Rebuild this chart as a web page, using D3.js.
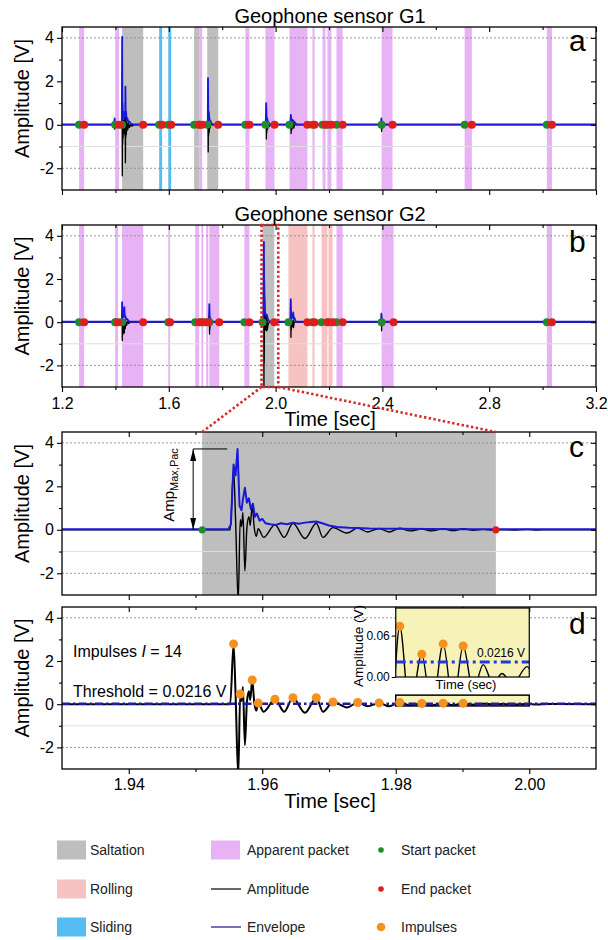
<!DOCTYPE html>
<html>
<head>
<meta charset="utf-8">
<script src="https://cdn.jsdelivr.net/npm/d3@7/dist/d3.min.js"></script>
<style>
  html, body { margin: 0; padding: 0; background: #fff; }
  svg { display: block; }
</style>
</head>
<body>
<svg id="fig" width="608" height="940"></svg>
<script>
// ---------- axis ticks ----------
const overviewTicks = [1.2, 1.6, 2.0, 2.4, 2.8, 3.2];
const overviewMinorTicks = [1.4, 1.8, 2.2, 2.6, 3.0];
const detailTicks = [1.94, 1.96, 1.98, 2.00];
const detailMinorTicks = [1.95, 1.97, 1.99];
const ampTicks = [-2, 0, 2, 4];
const ampMinorTicks = [-1, 1, 3];
const insetTicks = [0, 0.06];

// ---------- packets of sensor G1, [start, end] in s ----------
const g1Apparent = [[1.264,1.283],[1.399,1.414],[1.714,1.725],[1.887,1.902],[1.962,1.996],[2.052,2.119],[2.138,2.146],[2.176,2.187],[2.194,2.209],[2.228,2.251],[2.397,2.438],[2.708,2.735],[3.016,3.035]];
const g1Saltation = [[1.425,1.504],[1.695,1.714],[1.744,1.785]];
const g1Rolling = [];
const g1Sliding = [[1.564,1.575],[1.598,1.609]];

// ---------- packets of sensor G2 ----------
const g2Apparent = [[1.264,1.283],[1.399,1.410],[1.425,1.504],[1.598,1.605],[1.699,1.714],[1.722,1.729],[1.740,1.748],[1.752,1.789],[1.883,1.902],[2.228,2.251],[2.397,2.442],[3.016,3.035]];
const g2Saltation = [[1.951,1.995]];
const g2Rolling = [[2.048,2.119],[2.138,2.146],[2.172,2.194],[2.198,2.213]];
const g2Sliding = [];

// ---------- G1 signals, [t (s), V] ----------
const g1Amplitude = [[1.200,0],[1.396,0],[1.397,-0.2],[1.398,0.1],[1.399,0],
 [1.424,0],[1.4252,0.5],[1.4258,-2.35],[1.4265,0.3],[1.4272,-0.9],[1.428,0.25],[1.429,-0.6],[1.430,0.2],[1.431,-0.4],[1.432,0.15],[1.433,-0.3],[1.435,0.3],[1.436,-0.5],[1.4368,0.4],[1.4375,-1.75],[1.4383,0.3],[1.439,-0.6],[1.440,0.2],[1.441,-0.45],[1.442,0.1],[1.443,-0.3],[1.445,0.05],[1.447,-0.2],[1.450,0.05],[1.453,-0.12],[1.458,0.03],[1.462,-0.06],[1.470,0],
 [1.746,0],[1.7468,0.5],[1.7476,-1.25],[1.7484,0.3],[1.749,-0.5],[1.750,0.1],[1.751,-0.35],[1.753,0.1],[1.755,-0.15],[1.758,0.03],[1.762,0],
 [1.964,0],[1.9648,0.35],[1.9655,-0.65],[1.9662,0.15],[1.967,-0.35],[1.968,0.05],[1.970,-0.2],[1.973,0.03],[1.976,-0.08],[1.980,0],
 [2.056,0],[2.0572,0.2],[2.058,-0.4],[2.059,0.1],[2.060,-0.25],[2.062,0.05],[2.064,-0.15],[2.066,0.1],[2.068,-0.15],[2.071,0],
 [2.395,0],[2.396,0.15],[2.397,-0.3],[2.398,0.1],[2.400,-0.15],[2.403,0],
 [3.200,0]];
const g1Envelope = [[1.200,0.02],[1.395,0.02],[1.397,0.3],[1.399,0.02],
 [1.424,0.02],[1.4252,4.05],[1.4262,0.8],[1.4272,1.0],[1.428,0.4],[1.430,0.6],[1.432,0.3],[1.434,0.45],[1.4368,0.5],[1.4375,1.75],[1.4385,0.5],[1.440,0.6],[1.442,0.25],[1.445,0.3],[1.448,0.12],[1.452,0.15],[1.458,0.05],[1.465,0.02],
 [1.746,0.02],[1.7468,2.15],[1.748,0.5],[1.750,0.6],[1.752,0.25],[1.755,0.2],[1.760,0.05],[1.765,0.02],
 [1.963,0.02],[1.9648,1.0],[1.966,0.4],[1.968,0.3],[1.971,0.15],[1.975,0.08],[1.980,0.02],
 [2.055,0.02],[2.0572,0.45],[2.059,0.2],[2.061,0.25],[2.064,0.1],[2.066,0.2],[2.069,0.08],[2.072,0.12],[2.078,0.02],
 [2.395,0.02],[2.396,0.3],[2.398,0.1],[2.402,0.02],
 [3.200,0.02]];

// ---------- G2 signals ----------
const g2Amplitude = [[1.200,0],[1.424,0],[1.4252,0.3],[1.4258,-0.85],[1.4265,0.2],[1.4272,-0.6],[1.428,0.15],[1.429,-0.5],[1.430,0.1],[1.431,-0.35],[1.4325,0.1],[1.4335,-0.5],[1.435,0.1],[1.437,-0.3],[1.439,0.05],[1.442,-0.15],[1.446,0.03],[1.450,-0.06],[1.456,0],
 [1.751,0],[1.7518,0.3],[1.7526,-0.55],[1.7534,0.1],[1.754,-0.3],[1.756,0.05],[1.758,-0.12],[1.762,0],
 [1.955,0],[1.9557,2.79],[1.9564,-3.3],[1.9567,0.47],[1.9574,-1.9],[1.9585,1.12],[1.9602,-0.35],[1.9619,0.23],[1.9633,-0.35],[1.9646,0.3],[1.9664,-0.4],[1.9681,0.3],[1.9691,-0.35],[1.972,-0.1],[1.976,0],
 [2.056,0],[2.0568,0.2],[2.0575,-0.7],[2.0583,0.15],[2.059,-0.35],[2.061,0.05],[2.063,-0.2],[2.066,0.1],[2.067,-0.25],[2.070,0],
 [2.395,0],[2.396,0.15],[2.397,-0.4],[2.398,0.1],[2.400,-0.15],[2.403,0],
 [3.200,0]];
const g2Envelope = [[1.200,0.02],[1.396,0.02],[1.398,0.15],[1.400,0.02],
 [1.424,0.02],[1.4252,0.93],[1.4262,0.4],[1.4272,0.5],[1.428,0.3],[1.4295,0.35],[1.431,0.25],[1.4325,0.6],[1.4335,0.7],[1.435,0.25],[1.437,0.3],[1.440,0.12],[1.444,0.15],[1.450,0.05],[1.458,0.02],
 [1.750,0.02],[1.7518,0.84],[1.753,0.3],[1.755,0.2],[1.758,0.1],[1.764,0.02],
 [1.954,0.02],[1.9557,3.0],[1.9563,3.72],[1.957,1.5],[1.9574,1.93],[1.9585,1.2],[1.960,0.5],[1.963,0.3],[1.967,0.35],[1.971,0.15],[1.976,0.05],[1.982,0.02],
 [2.055,0.02],[2.0568,1.07],[2.058,0.4],[2.060,0.3],[2.062,0.2],[2.064,0.25],[2.066,0.45],[2.068,0.15],[2.071,0.2],[2.074,0.05],[2.080,0.02],
 [2.395,0.02],[2.396,0.4],[2.398,0.15],[2.402,0.02],
 [3.200,0.02]];

// ---------- saltation packet of G2 in detail ----------
const packetStart = 1.951, packetEnd = 1.995;
const detailAmplitude = [[1.9300,0],[1.9552,0],[1.9557,2.79],[1.9560,0.5],[1.9564,-3.3],[1.9567,0.47],[1.9569,0.15],[1.9571,0.8],[1.9574,-1.9],[1.9577,0.1],[1.9580,0.6],[1.9582,0.2],[1.9585,1.12],[1.9588,0.1],[1.9591,-0.3],[1.9594,0.05],[1.9602,-0.35],[1.9619,0.23],[1.9633,-0.35],[1.9646,0.30],[1.9664,-0.40],[1.9681,0.30],[1.9691,-0.35],[1.9706,0.10],[1.9727,-0.15],[1.9743,0.08],[1.9758,-0.10],[1.9775,0.06],[1.9790,-0.10],[1.9806,0.0735],[1.9821,-0.05],[1.9839,0.033],[1.9854,-0.05],[1.9871,0.048],[1.9886,-0.04],[1.9901,0.045],[1.9916,-0.02],[1.9931,0.018],[1.9946,-0.01],[1.9959,0.005],[1.9975,-0.01],[1.9997,0.015],[2.0012,-0.01],[2.0030,0.004],[2.0100,0]];
const detailEnvelope = [[1.9300,0.02],[1.9549,0.02],[1.9553,0.25],[1.9557,3.0],[1.9560,2.5],[1.9563,3.72],[1.9566,1.1],[1.9569,0.9],[1.9571,1.4],[1.9574,1.93],[1.9577,1.25],[1.9580,1.45],[1.9583,0.95],[1.9586,1.2],[1.9589,0.6],[1.9592,0.75],[1.9596,0.42],[1.9600,0.5],[1.9605,0.3],[1.9612,0.26],[1.9620,0.22],[1.9628,0.3],[1.9637,0.26],[1.9646,0.32],[1.9655,0.28],[1.9664,0.33],[1.9673,0.36],[1.9681,0.38],[1.9690,0.3],[1.9700,0.2],[1.9712,0.13],[1.9730,0.09],[1.9760,0.06],[1.9800,0.05],[1.9850,0.04],[1.9900,0.03],[1.9950,0.02],[2.0100,0.02]];
const impulseTimes = [1.9557,1.9567,1.9585,1.9594,1.9619,1.9646,1.9681,1.9706,1.9743,1.9775,1.9806,1.9839,1.9871,1.9901];
const impulseValues = [2.79,0.47,1.12,0.05,0.23,0.30,0.30,0.10,0.08,0.06,0.0735,0.033,0.048,0.045];
const threshold = 0.0216;
const insetWindow = [1.98, 2.00];

// ---------- drawing ----------
const FONT = '"Liberation Sans", Arial, Helvetica, sans-serif';
const C = {
  saltation: "#bebebe", rolling: "#f7c2c2", sliding: "#55bdf1", apparent: "#e8b3f4",
  amp: "#000000", env: "#1818d8", start: "#1e8c2a", end: "#e31b1b", impulse: "#f5911f",
  threshold: "#1d1da2", thresholdInset: "#2038e0", zoom: "#d42a2a", inset: "#f7f3b8"
};

const svg = d3.select("#fig").attr("font-family", FONT);
const defs = svg.append("defs");

const X0 = 62, X1 = 596;
const xOverview = d3.scaleLinear().domain([1.2, 3.2]).range([X0, X1]);
const xDetail = d3.scaleLinear().domain([1.93, 2.01]).range([X0, X1]);
const yFor = (top, bottom) => d3.scaleLinear().domain([-3, 4.5]).range([bottom, top]);
const yA = yFor(27, 190), yB = yFor(225, 387), yC = yFor(432, 595), yD = yFor(607, 769);

function makePanel(id, x, y) {
  const [yb, yt] = y.range();
  defs.append("clipPath").attr("id", "clip-" + id).append("rect")
    .attr("x", X0).attr("y", yt).attr("width", X1 - X0).attr("height", yb - yt);
  const g = svg.append("g").attr("class", "panel-" + id);
  const plot = g.append("g").attr("clip-path", `url(#clip-${id})`);
  return { g, plot, x, y };
}

function shade(p, intervals, color) {
  const [yb, yt] = p.y.range();
  p.plot.append("g").selectAll("rect").data(intervals).join("rect")
    .attr("x", d => p.x(d[0])).attr("y", yt)
    .attr("width", d => Math.max(1.5, p.x(d[1]) - p.x(d[0])))
    .attr("height", yb - yt).attr("fill", color);
}

function grid(p) {
  const g = p.plot.append("g");
  g.selectAll("line.dotted").data([4, -2]).join("line").attr("class", "dotted")
    .attr("x1", X0).attr("x2", X1).attr("y1", d => p.y(d)).attr("y2", d => p.y(d))
    .attr("stroke", "#8c8c8c").attr("stroke-width", 0.9).attr("stroke-dasharray", "2,2");
  g.selectAll("line.light").data([-1]).join("line").attr("class", "light")
    .attr("x1", X0).attr("x2", X1).attr("y1", d => p.y(d)).attr("y2", d => p.y(d))
    .attr("stroke", "#dedede").attr("stroke-width", 1);
}

function trace(p, pts, color, width, curve) {
  return p.plot.append("path").datum(pts)
    .attr("d", d3.line().x(d => p.x(d[0])).y(d => p.y(d[1])).curve(curve || d3.curveLinear))
    .attr("fill", "none").attr("stroke", color).attr("stroke-width", width)
    .attr("stroke-linejoin", "round");
}

function dots(p, times, values, color, r) {
  p.plot.append("g").selectAll("circle").data(times.map((t, i) => [t, values[i]])).join("circle")
    .attr("cx", d => p.x(d[0])).attr("cy", d => p.y(d[1])).attr("r", r).attr("fill", color);
}

function packetMarkers(p, packets, r) {
  dots(p, packets.map(d => d[0]), packets.map(() => 0), C.start, r);
  dots(p, packets.map(d => d[1]), packets.map(() => 0), C.end, r);
}

function styleAxis(s, size) {
  s.select(".domain").remove();
  s.attr("font-family", FONT).attr("font-size", size || 16);
  s.selectAll(".tick line").attr("stroke", "#000").attr("stroke-width", 1.1);
  s.selectAll(".tick text").attr("fill", "#000");
}

function axes(p, major, minor, fmt, pad) {
  const [yb, yt] = p.y.range();
  const add = (tr, axis) => p.g.append("g").attr("transform", tr).call(axis).call(styleAxis);
  add(`translate(${X0},0)`, d3.axisLeft(p.y).tickValues(ampTicks).tickSize(5).tickPadding(3).tickFormat(d => String(d)));
  add(`translate(${X0},0)`, d3.axisLeft(p.y).tickValues(ampMinorTicks).tickSize(3).tickFormat(""));
  add(`translate(${X1},0)`, d3.axisRight(p.y).tickValues(ampTicks).tickSize(-5).tickFormat(""));
  add(`translate(${X1},0)`, d3.axisRight(p.y).tickValues(ampMinorTicks).tickSize(-3).tickFormat(""));
  add(`translate(0,${yb})`, d3.axisBottom(p.x).tickValues(major).tickSize(5).tickPadding(pad || 6).tickFormat(fmt || ""));
  add(`translate(0,${yb})`, d3.axisBottom(p.x).tickValues(minor).tickSize(3).tickFormat(""));
  add(`translate(0,${yt})`, d3.axisTop(p.x).tickValues(major).tickSize(-5).tickFormat(""));
  add(`translate(0,${yt})`, d3.axisTop(p.x).tickValues(minor).tickSize(-3).tickFormat(""));
  p.g.append("rect").attr("x", X0).attr("y", yt).attr("width", X1 - X0).attr("height", yb - yt)
    .attr("fill", "none").attr("stroke", "#000").attr("stroke-width", 1.3);
}

function yLabel(p) {
  const [yb, yt] = p.y.range();
  svg.append("text").attr("transform", `translate(29,${(yb + yt) / 2 - 10}) rotate(-90)`)
    .attr("text-anchor", "middle").attr("font-size", 20).attr("fill", "#000").text("Amplitude [V]");
}

function panelLetter(p, ch, dy) {
  svg.append("text").attr("x", 569).attr("y", p.y.range()[1] + dy)
    .attr("font-size", 30).attr("fill", "#000").text(ch);
}

function panelTitle(p, txt) {
  svg.append("text").attr("x", 330).attr("y", p.y.range()[1] - 4.5)
    .attr("text-anchor", "middle").attr("font-size", 20).attr("fill", "#000").text(txt);
}

function timeLabel(p) {
  svg.append("text").attr("x", 330).attr("y", p.y.range()[0] + 38.5)
    .attr("text-anchor", "middle").attr("font-size", 20).attr("fill", "#000").text("Time [sec]");
}

// ----- panel a : sensor G1 -----
const pA = makePanel("a", xOverview, yA);
shade(pA, g1Apparent, C.apparent);
shade(pA, g1Saltation, C.saltation);
shade(pA, g1Rolling, C.rolling);
shade(pA, g1Sliding, C.sliding);
grid(pA);
trace(pA, g1Amplitude, C.amp, 1.3);
trace(pA, g1Envelope, C.env, 1.8);
packetMarkers(pA, [...g1Apparent, ...g1Saltation, ...g1Rolling, ...g1Sliding], 4);
axes(pA, overviewTicks, overviewMinorTicks);
yLabel(pA); panelLetter(pA, "a", 24); panelTitle(pA, "Geophone sensor G1");

// ----- panel b : sensor G2 -----
const pB = makePanel("b", xOverview, yB);
shade(pB, g2Apparent, C.apparent);
shade(pB, g2Saltation, C.saltation);
shade(pB, g2Rolling, C.rolling);
shade(pB, g2Sliding, C.sliding);
grid(pB);
trace(pB, g2Amplitude, C.amp, 1.3);
trace(pB, g2Envelope, C.env, 1.8);
packetMarkers(pB, [...g2Apparent, ...g2Saltation, ...g2Rolling, ...g2Sliding], 4);
axes(pB, overviewTicks, overviewMinorTicks, d3.format(".1f"), 6);
yLabel(pB); panelLetter(pB, "b", 27); panelTitle(pB, "Geophone sensor G2"); timeLabel(pB);

// zoom frame around the saltation packet and its guide lines to panel c
const zoomL = xOverview(packetStart) - 1, zoomR = xOverview(packetEnd) + 4;
const zoomStyle = s => s.attr("fill", "none").attr("stroke", C.zoom).attr("stroke-width", 2.6).attr("stroke-dasharray", "2.4,2.4");
pB.g.append("rect").attr("x", zoomL).attr("y", yB.range()[1]).attr("width", zoomR - zoomL)
  .attr("height", yB.range()[0] - yB.range()[1]).call(zoomStyle);

// ----- panel c : one saltation packet -----
const pC = makePanel("c", xDetail, yC);
shade(pC, [[packetStart, packetEnd]], C.saltation);
grid(pC);
trace(pC, detailAmplitude, C.amp, 1.4, d3.curveMonotoneX);
trace(pC, detailEnvelope, C.env, 2);
packetMarkers(pC, [[packetStart, packetEnd]], 3.6);
axes(pC, detailTicks, detailMinorTicks);
yLabel(pC); panelLetter(pC, "c", 25);

svg.append("g").selectAll("line").data([[zoomL, packetStart], [zoomR, packetEnd]]).join("line")
  .attr("x1", d => d[0]).attr("y1", yB.range()[0])
  .attr("x2", d => xDetail(d[1])).attr("y2", yC.range()[1])
  .call(zoomStyle);

// peak-amplitude annotation
const ampMax = d3.max(detailEnvelope, d => d[1]);
defs.append("marker").attr("id", "arrowHead").attr("viewBox", "0 0 12 6")
  .attr("refX", 12).attr("refY", 3).attr("markerWidth", 12).attr("markerHeight", 6)
  .attr("markerUnits", "userSpaceOnUse").attr("orient", "auto-start-reverse")
  .append("path").attr("d", "M0,0 L12,3 L0,6 Z").attr("fill", "#000");
const arrowX = xDetail(packetStart) - 9;
pC.g.append("line").attr("x1", arrowX).attr("x2", xDetail(packetStart) + 25)
  .attr("y1", yC(ampMax)).attr("y2", yC(ampMax)).attr("stroke", "#000").attr("stroke-width", 1);
pC.g.append("line").attr("x1", arrowX).attr("x2", arrowX)
  .attr("y1", yC(ampMax)).attr("y2", yC(0)).attr("stroke", "#000").attr("stroke-width", 1)
  .attr("marker-start", "url(#arrowHead)").attr("marker-end", "url(#arrowHead)");
const ampLbl = pC.g.append("text").attr("transform", `translate(${arrowX - 19},${yC(0) - 8}) rotate(-90)`)
  .attr("font-size", 15).attr("fill", "#000");
ampLbl.append("tspan").text("Amp");
ampLbl.append("tspan").attr("dy", 4).attr("font-size", 11).text("Max,Pac");

// ----- panel d : impulses -----
const pD = makePanel("d", xDetail, yD);
grid(pD);
const boxLow = -0.08, boxHigh = 0.42;
pD.plot.append("rect").attr("x", xDetail(insetWindow[0])).attr("y", yD(boxHigh))
  .attr("width", xDetail(insetWindow[1]) - xDetail(insetWindow[0])).attr("height", yD(boxLow) - yD(boxHigh))
  .attr("fill", C.inset).attr("stroke", "#000").attr("stroke-width", 1.5);
trace(pD, detailAmplitude, C.amp, 2, d3.curveMonotoneX);
pD.plot.append("line").attr("x1", X0).attr("x2", X1).attr("y1", yD(threshold)).attr("y2", yD(threshold))
  .attr("stroke", C.threshold).attr("stroke-width", 2.4).attr("stroke-dasharray", "8,3,2.5,3");
dots(pD, impulseTimes, impulseValues, C.impulse, 4.5);
axes(pD, detailTicks, detailMinorTicks, d3.format(".2f"), 5);
yLabel(pD); panelLetter(pD, "d", 27); timeLabel(pD);

const impText = svg.append("text").attr("x", 73).attr("y", 657).attr("font-size", 16).attr("fill", "#000");
impText.append("tspan").text("Impulses ");
impText.append("tspan").attr("font-style", "italic").text("I");
impText.append("tspan").text(" = " + impulseTimes.length);
svg.append("text").attr("x", 73).attr("y", 697).attr("font-size", 16).attr("fill", "#000")
  .text(`Threshold = ${threshold} V`);

// inset: low-amplitude tail of the packet
const xi = d3.scaleLinear().domain(insetWindow).range([xDetail(insetWindow[0]), xDetail(insetWindow[1])]);
const yi = d3.scaleLinear().domain([0, 0.1]).range([677, 608]);
const inset = svg.append("g");
defs.append("clipPath").attr("id", "clip-inset").append("rect")
  .attr("x", xi.range()[0]).attr("y", yi.range()[1])
  .attr("width", xi.range()[1] - xi.range()[0]).attr("height", yi.range()[0] - yi.range()[1]);
inset.append("rect").attr("x", xi.range()[0]).attr("y", yi.range()[1])
  .attr("width", xi.range()[1] - xi.range()[0]).attr("height", yi.range()[0] - yi.range()[1])
  .attr("fill", C.inset);
const insetPlot = inset.append("g").attr("clip-path", "url(#clip-inset)");
insetPlot.append("path").datum(detailAmplitude)
  .attr("d", d3.line().x(d => xi(d[0])).y(d => yi(d[1])).curve(d3.curveMonotoneX))
  .attr("fill", "none").attr("stroke", "#000").attr("stroke-width", 1.4);
insetPlot.append("line").attr("x1", xi.range()[0]).attr("x2", xi.range()[1])
  .attr("y1", yi(threshold)).attr("y2", yi(threshold))
  .attr("stroke", C.thresholdInset).attr("stroke-width", 3).attr("stroke-dasharray", "10,4,3,4");
insetPlot.append("g").selectAll("circle")
  .data(impulseTimes.map((t, i) => [t, impulseValues[i]]).filter(d => d[0] >= insetWindow[0] && d[0] <= insetWindow[1]))
  .join("circle").attr("cx", d => xi(d[0])).attr("cy", d => yi(d[1])).attr("r", 4.5).attr("fill", C.impulse);
inset.append("rect").attr("x", xi.range()[0]).attr("y", yi.range()[1])
  .attr("width", xi.range()[1] - xi.range()[0]).attr("height", yi.range()[0] - yi.range()[1])
  .attr("fill", "none").attr("stroke", "#000").attr("stroke-width", 1.2);
inset.append("g").attr("transform", `translate(${xi.range()[0]},0)`)
  .call(d3.axisLeft(yi).tickValues(insetTicks).tickSize(4).tickPadding(2).tickFormat(d3.format(".2f")))
  .call(s => styleAxis(s, 12));
inset.append("text").attr("x", 466).attr("y", 689).attr("text-anchor", "middle")
  .attr("font-size", 13).attr("fill", "#000").text("Time (sec)");
inset.append("text").attr("transform", `translate(363,646) rotate(-90)`).attr("text-anchor", "middle")
  .attr("font-size", 13.5).attr("fill", "#000").text("Amplitude (V)");
inset.append("text").attr("x", 477).attr("y", 657).attr("font-size", 12).attr("fill", "#000")
  .text(`${threshold} V`);

// ----- legend -----
const legend = svg.append("g").attr("font-size", 14).attr("fill", "#222");
const rowY = [850, 889, 927];
const legendItems = [
  { col: 0, row: 0, kind: "swatch", color: C.saltation, label: "Saltation" },
  { col: 0, row: 1, kind: "swatch", color: C.rolling, label: "Rolling" },
  { col: 0, row: 2, kind: "swatch", color: C.sliding, label: "Sliding" },
  { col: 1, row: 0, kind: "swatch", color: C.apparent, label: "Apparent packet" },
  { col: 1, row: 1, kind: "line", color: C.amp, label: "Amplitude", w: 1.2 },
  { col: 1, row: 2, kind: "line", color: "#5050b0", label: "Envelope", w: 1.6 },
  { col: 2, row: 0, kind: "dot", color: C.start, label: "Start packet", r: 2.8 },
  { col: 2, row: 1, kind: "dot", color: C.end, label: "End packet", r: 2.8 },
  { col: 2, row: 2, kind: "dot", color: C.impulse, label: "Impulses", r: 4.3 }
];
const colX = [57, 211, 381];
const textX = [90, 247, 401];
legendItems.forEach(it => {
  const y = rowY[it.row], x = colX[it.col];
  if (it.kind === "swatch") {
    legend.append("rect").attr("x", x).attr("y", y - 9.5).attr("width", 29).attr("height", 19).attr("fill", it.color);
  } else if (it.kind === "line") {
    legend.append("line").attr("x1", x).attr("x2", x + 30).attr("y1", y).attr("y2", y)
      .attr("stroke", it.color).attr("stroke-width", it.w);
  } else {
    legend.append("circle").attr("cx", x).attr("cy", y).attr("r", it.r).attr("fill", it.color);
  }
  legend.append("text").attr("x", textX[it.col]).attr("y", y + 5).text(it.label);
});
</script>
</body>
</html>
